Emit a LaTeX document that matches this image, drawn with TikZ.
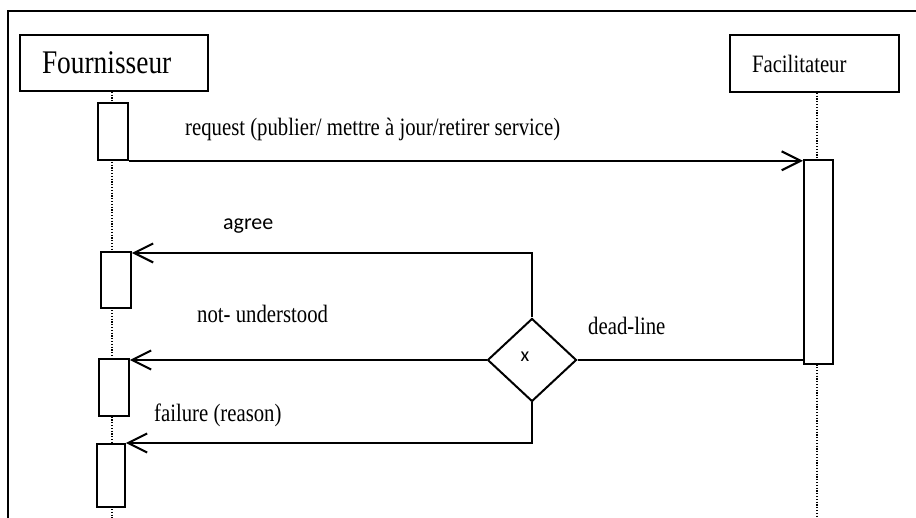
\documentclass[tikz,border=0pt]{standalone}
\usepackage{fontspec}
\setmainfont{Liberation Serif}[FakeStretch=0.83]
\newfontfamily\labelsans{Carlito}
\usetikzlibrary{arrows.meta,shapes.geometric}
\begin{document}
\begin{tikzpicture}[x=1pt,y=-1pt,
  frame/.style={line width=1.8pt},
  head/.style={draw, line width=1.8pt, inner ysep=0pt, align=left, minimum height=56pt},
  act/.style={draw, fill=white, line width=1.8pt, inner sep=0pt, anchor=north west},
  life/.style={line width=1.2pt, dash pattern=on 1.2pt off 1.6pt},
  msg/.style={line width=2.1pt, -{Straight Barb[length=19pt,width=19pt]}},
  link/.style={line width=2.1pt},
  lbl/.style={inner sep=0pt, anchor=base west, font=\fontsize{25}{28}\selectfont},
]
\useasboundingbox (0,0) rectangle (916,518);

% open frame of the sequence
\draw[frame] (8,518) -- (8,11) -- (916,11);

% participants
\node[head, inner xsep=22pt, text width=144pt, font=\fontsize{33}{36}\selectfont] (four) at (114,63) {Fournisseur};
\node[head, inner xsep=22pt, text width=125pt, minimum height=57pt, font=\fontsize{25}{28}\selectfont] (faci) at (814.5,63.5) {Facilitateur};

% lifelines
\coordinate (l1end) at (112,518);
\coordinate (l2end) at (817,518);
\draw[life] (l1end |- four.south) -- (l1end);
\draw[life] (l2end |- faci.south) -- (l2end);

% activation bars
\node[act, minimum width=30pt, minimum height=57pt] (b1) at (97,102) {};
\node[act, minimum width=30pt, minimum height=56pt] (b2) at (100,251) {};
\node[act, minimum width=30pt, minimum height=57pt] (b3) at (98,358) {};
\node[act, minimum width=28pt, minimum height=63pt] (b4) at (96,443) {};
\node[act, minimum width=29pt, minimum height=204pt] (fa) at (803,159) {};

% decision
\node[draw, diamond, line width=2pt, minimum width=89pt, minimum height=83pt, inner sep=0pt] (dec) at (532,360) {};
\node[inner sep=0pt, font=\labelsans\fontsize{20}{22}\selectfont] (xm) at (525,357) {x};

% messages
\draw[msg] (b1.south east) -- (b1.south east -| fa.west);
\coordinate (agreecorner) at (532,253);
\draw[msg] (dec.north) -- (agreecorner) -- (agreecorner -| b2.east);
\draw[msg] (dec.west) -- (dec.west -| b3.east);
\draw[msg] (dec.south) |- (b4.north east);
\draw[link] (dec.east) -- (dec.east -| fa.west);

% message labels
\node[lbl] (lreq) at (185,136) {request (publier/ mettre à jour/retirer service)};
\node[lbl, font=\labelsans\fontsize{22}{24}\selectfont] (lagree) at (223,230) {agree};
\node[lbl] (lnot) at (197,323) {not- understood};
\node[lbl] (lfail) at (154,422) {failure (reason)};
\node[lbl] (ldead) at (588,335) {dead-line};
\end{tikzpicture}
\end{document}
